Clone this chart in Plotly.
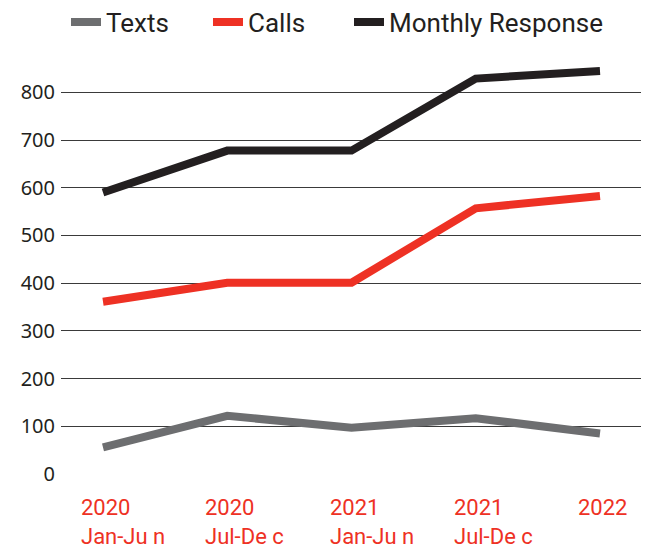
import plotly.graph_objects as go

categories = ["2020 Jan-Jun", "2020 Jul-Dec", "2021 Jan-Jun", "2021 Jul-Dec", "2022"]
tick_years = ["2020", "2020", "2021", "2021", "2022"]
tick_periods = ["Jan-Ju n", "Jul-De c", "Jan-Ju n", "Jul-De c", ""]
texts = [56, 122, 97, 117, 85]
calls = [361, 401, 401, 557, 583]
monthly = [590, 678, 678, 829, 845]
y_ticks = [0, 100, 200, 300, 400, 500, 600, 700, 800]

fig = go.Figure()
fig.add_trace(go.Scatter(x=categories, y=texts, name="Texts", mode="lines",
                         line=dict(color="#6d6e70", width=8), legend="legend"))
fig.add_trace(go.Scatter(x=categories, y=calls, name="Calls", mode="lines",
                         line=dict(color="#ee3124", width=8), legend="legend2"))
fig.add_trace(go.Scatter(x=categories, y=monthly, name="Monthly Response", mode="lines",
                         line=dict(color="#231f20", width=8), legend="legend3"))

for i, (yr, per) in enumerate(zip(tick_years, tick_periods)):
    txt = yr + ("<br>" + per if per else "")
    fig.add_annotation(x=i, y=0, xref="x", yref="paper", text=txt, showarrow=False,
                       xanchor="left", yanchor="top", align="left", xshift=-24, yshift=-19,
                       font=dict(family="Liberation Sans Narrow, Roboto", size=22, color="#ee3124"))

legend_font = dict(family="Liberation Sans Narrow, Roboto", size=26, color="#231f20")
legend_common = dict(orientation="h", xanchor="left", yref="paper", y=1.0892, yanchor="middle",
                     font=legend_font, bgcolor="rgba(0,0,0,0)")

fig.update_layout(
    width=641, height=540,
    margin=dict(l=53, r=7, t=51, b=74, autoexpand=False),
    paper_bgcolor="white", plot_bgcolor="white",
    showlegend=True,
    legend=dict(x=0.0086, **legend_common),
    legend2=dict(x=0.253, **legend_common),
    legend3=dict(x=0.4957, **legend_common),
    xaxis=dict(type="category", range=[-0.338, 4.338], showticklabels=False,
               showgrid=False, zeroline=False, showline=False),
    yaxis=dict(range=[0, 870], tickvals=y_ticks, showgrid=True, gridcolor="#3a3a3a", gridwidth=1,
               zeroline=False, showline=False, ticks="", ticklabelstandoff=5,
               tickfont=dict(family="Noto Sans", size=20, color="#231f20")),
)
fig.write_html("out.html")
